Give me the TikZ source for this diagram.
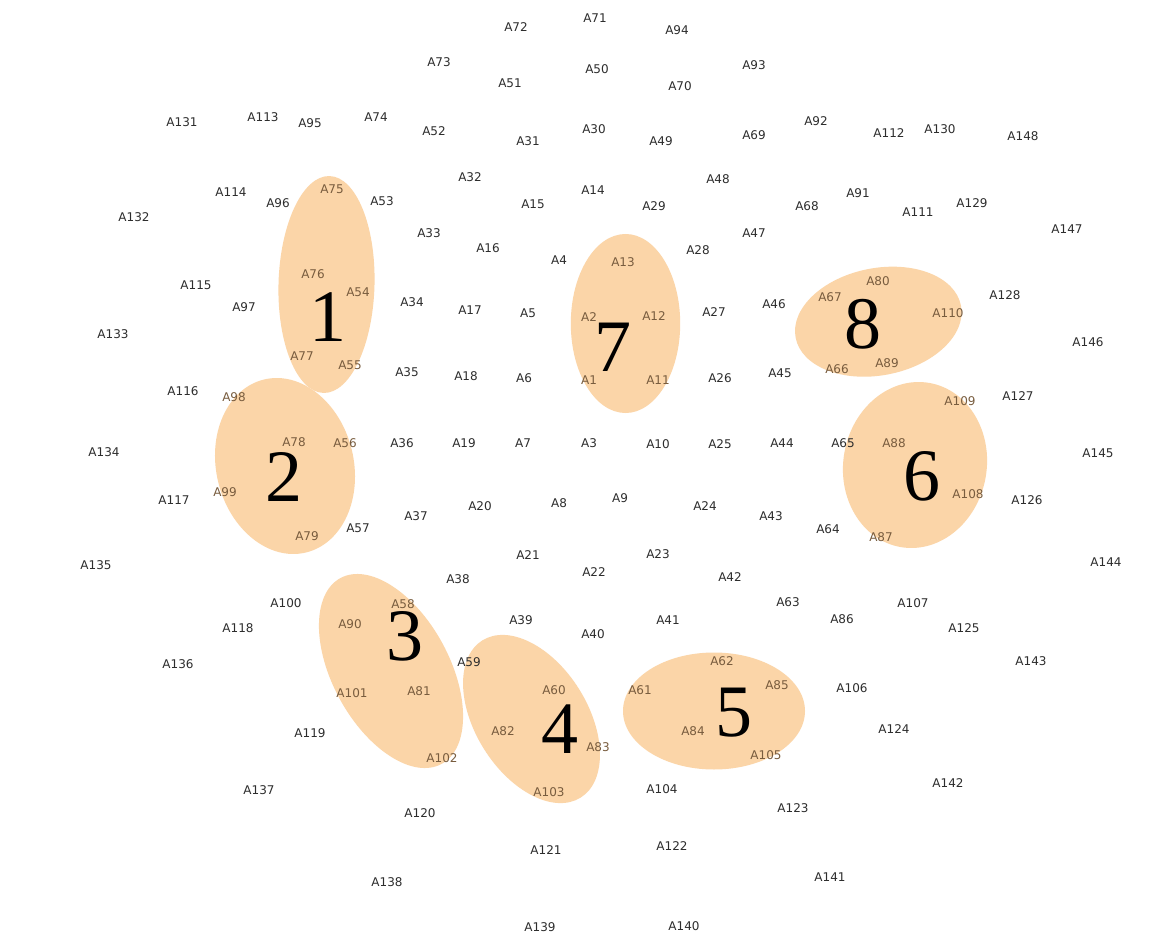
\documentclass[tikz,border=0pt]{standalone}
\usepackage{fontspec}
\newfontfamily\labfont{DejaVu Sans}
\newfontfamily\numfont{Liberation Serif}
\definecolor{peach}{RGB}{251,213,168}
\definecolor{labcol}{RGB}{45,45,45}
\definecolor{incol}{RGB}{120,92,62}
\begin{document}
\begin{tikzpicture}[x=1pt,y=-1pt,
  lab/.style={inner sep=0pt, font=\labfont\fontsize{12}{12}\selectfont, text=labcol},
  labin/.style={lab, text=incol},
  bignum/.style={inner sep=0pt, font=\numfont\fontsize{74}{74}\selectfont, text=black},
  blob/.style={fill=peach, draw=none}]
\useasboundingbox (0,0) rectangle (1172,933);
\fill[white] (0,0) rectangle (1172,933);
% clusters
\fill[blob, rotate around={-1.6:(326.5,284.5)}] (326.5,284.5) ellipse [x radius=48pt, y radius=108.5pt];
\fill[blob, rotate around={13.7:(285,466)}] (285,466) ellipse [x radius=68.7pt, y radius=89pt];
\fill[blob, rotate around={28.6:(391,671)}] (391,671) ellipse [x radius=58.4pt, y radius=105.8pt];
\fill[blob, rotate around={32:(531.5,719)}] (531.5,719) ellipse [x radius=56.2pt, y radius=92.7pt];
\fill[blob] (714,711) ellipse [x radius=91pt, y radius=58.5pt];
\fill[blob, rotate around={-10:(915,465)}] (915,465) ellipse [x radius=71.7pt, y radius=83.3pt];
\fill[blob] (625.5,323.5) ellipse [x radius=54.7pt, y radius=89.5pt];
\fill[blob, rotate around={11:(878.3,321.7)}] (878.3,321.7) ellipse [x radius=84.2pt, y radius=53.6pt];
% labels outside clusters
\foreach \x/\y/\n in {
  595/18/A71, 516/27/A72, 677/30/A94, 439/62/A73, 597/69/A50, 754/65/A93,
  510/83/A51, 680/86/A70, 182/122/A131, 263/117/A113, 310/123/A95, 376/117/A74,
  434/131/A52, 528/141/A31, 594/129/A30, 661/141/A49, 754/135/A69, 816/121/A92,
  889/133/A112, 940/129/A130, 1023/136/A148, 231/192/A114, 278/203/A96,
  382/201/A53, 470/177/A32, 134/217/A132, 533/204/A15, 593/190/A14, 654/206/A29,
  718/179/A48, 807/206/A68, 858/193/A91, 918/212/A111, 972/203/A129,
  1067/229/A147, 429/233/A33, 488/248/A16, 559/260/A4, 698/250/A28, 754/233/A47,
  196/285/A115, 244/307/A97, 412/302/A34, 470/310/A17, 528/313/A5, 714/312/A27,
  774/304/A46, 1005/295/A128, 113/334/A133, 1088/342/A146, 407/372/A35,
  466/376/A18, 524/378/A6, 720/378/A26, 780/373/A45, 183/391/A116, 1018/396/A127,
  104/452/A134, 402/443/A36, 464/443/A19, 523/443/A7, 589/443/A3, 658/444/A10,
  720/444/A25, 782/443/A44, 843/443/A65, 1098/453/A145, 174/500/A117, 416/516/A37,
  480/506/A20, 559/503/A8, 620/498/A9, 705/506/A24, 771/516/A43, 828/529/A64,
  1027/500/A126, 358/528/A57, 96/565/A135, 528/555/A21, 594/572/A22, 658/554/A23,
  730/577/A42, 1106/562/A144, 458/579/A38, 286/603/A100, 238/628/A118,
  521/620/A39, 593/634/A40, 668/620/A41, 788/602/A63, 842/619/A86, 913/603/A107,
  964/628/A125, 178/664/A136, 469/662/A59, 852/688/A106, 1031/661/A143,
  894/729/A124, 310/733/A119, 662/789/A104, 259/790/A137, 948/783/A142,
  793/808/A123, 420/813/A120, 546/850/A121, 672/846/A122, 830/877/A141,
  387/882/A138, 540/927/A139, 684/926/A140}
  \node[lab] (\n) at (\x,\y) {\n};
% labels inside clusters
\foreach \x/\y/\n in {
  332/189/A75, 313/274/A76, 358/292/A54, 302/356/A77, 350/365/A55,
  234/397/A98, 294/442/A78, 345/443/A56, 225/492/A99, 307/536/A79,
  350/624/A90, 403/604/A58, 352/693/A101, 419/691/A81, 442/758/A102,
  554/690/A60, 503/731/A82, 598/747/A83, 549/792/A103,
  640/690/A61, 722/661/A62, 693/731/A84, 777/685/A85, 766/755/A105,
  623/262/A13, 589/317/A2, 654/316/A12, 589/380/A1, 658/380/A11,
  830/297/A67, 878/281/A80, 948/313/A110, 837/369/A66, 887/363/A89,
  960/401/A109, 894/443/A88, 968/494/A108, 881/537/A87}
  \node[labin] (\n) at (\x,\y) {\n};
% cluster numbers
\node[bignum] (c1) at (327.5,316.7) {1};
\node[bignum] (c2) at (284,477) {2};
\node[bignum] (c3) at (405,636) {3};
\node[bignum] (c4) at (560,729) {4};
\node[bignum] (c5) at (734,713) {5};
\node[bignum] (c6) at (922,476) {6};
\node[bignum] (c7) at (613,347) {7};
\node[bignum] (c8) at (863,324) {8};
\end{tikzpicture}
\end{document}
